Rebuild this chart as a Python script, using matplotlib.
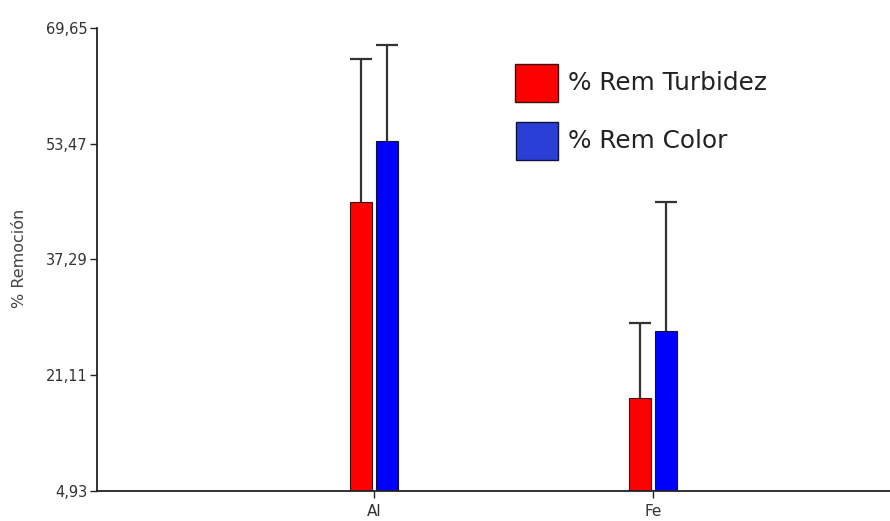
import matplotlib
matplotlib.use("Agg")
import matplotlib.pyplot as plt
from matplotlib.patches import Rectangle
import numpy as np

categories = ["Al", "Fe"]
turbidez = [45.3, 17.9]
turbidez_err = [20.0, 10.5]
color_vals = [53.85, 27.3]
color_err = [13.4, 18.0]
yticks = [4.93, 21.11, 37.29, 53.47, 69.65]
ytick_labels = ["4,93", "21,11", "37,29", "53,47", "69,65"]

plt.rcParams["font.family"] = ["DejaVu Sans"]

fig = plt.figure(figsize=(8.9, 5.21), dpi=100)
ax = fig.add_axes([97 / 890, 1 - 491 / 521, 1 - 97 / 890, (491 - 28) / 521])

x = np.arange(len(categories))
w = 0.079
off = 0.047
ekw = dict(ecolor="#333333", elinewidth=1.6, capthick=1.6)
b1 = ax.bar(x - off, turbidez, w, bottom=0, color="#ff0000", edgecolor="#3a1010", linewidth=0.8,
            yerr=[[0] * len(x), turbidez_err], capsize=8, error_kw=ekw, zorder=2)
b2 = ax.bar(x + off, color_vals, w, bottom=0, color="#0000ff", edgecolor="#10103a", linewidth=0.8,
            yerr=[[0] * len(x), color_err], capsize=8, error_kw=ekw, zorder=2)
for b in (b1, b2):
    caps = b.errorbar.lines[1]
    if len(caps) >= 2:
        caps[0].set_visible(False)

ax.set_xlim(-0.993, 1.849)
ax.set_ylim(yticks[0], yticks[-1])
ax.set_yticks(yticks)
ax.set_yticklabels(ytick_labels)
ax.set_xticks(x)
ax.set_xticklabels(categories)
for s in ["top", "right"]:
    ax.spines[s].set_visible(False)
for s in ["left", "bottom"]:
    ax.spines[s].set_color("#222222")
    ax.spines[s].set_linewidth(1.3)
ax.tick_params(axis="both", length=5, width=1, color="#222222", labelsize=10.5, labelcolor="#333333", pad=2)
ax.tick_params(axis="x", labelsize=11, pad=4)
ax.set_ylabel("% Remoción", fontsize=11.5, color="#444444")
ax.yaxis.set_label_coords(-70 / 793, (491 - 258) / 463)

# manual legend
fig.patches.append(Rectangle((515 / 890, 1 - 102 / 521), 43 / 890, 38 / 521, transform=fig.transFigure,
                             facecolor="#ff0000", edgecolor="#3a1010", linewidth=1))
fig.patches.append(Rectangle((516 / 890, 1 - 160 / 521), 42 / 890, 38 / 521, transform=fig.transFigure,
                             facecolor="#2b3fd6", edgecolor="#10103a", linewidth=1))
fig.text(568 / 890, 1 - 83 / 521, "% Rem Turbidez", fontsize=17.8, va="center", color="#222222")
fig.text(568 / 890, 1 - 141 / 521, "% Rem Color", fontsize=17.8, va="center", color="#222222")

fig.savefig("out.png", dpi=100)
